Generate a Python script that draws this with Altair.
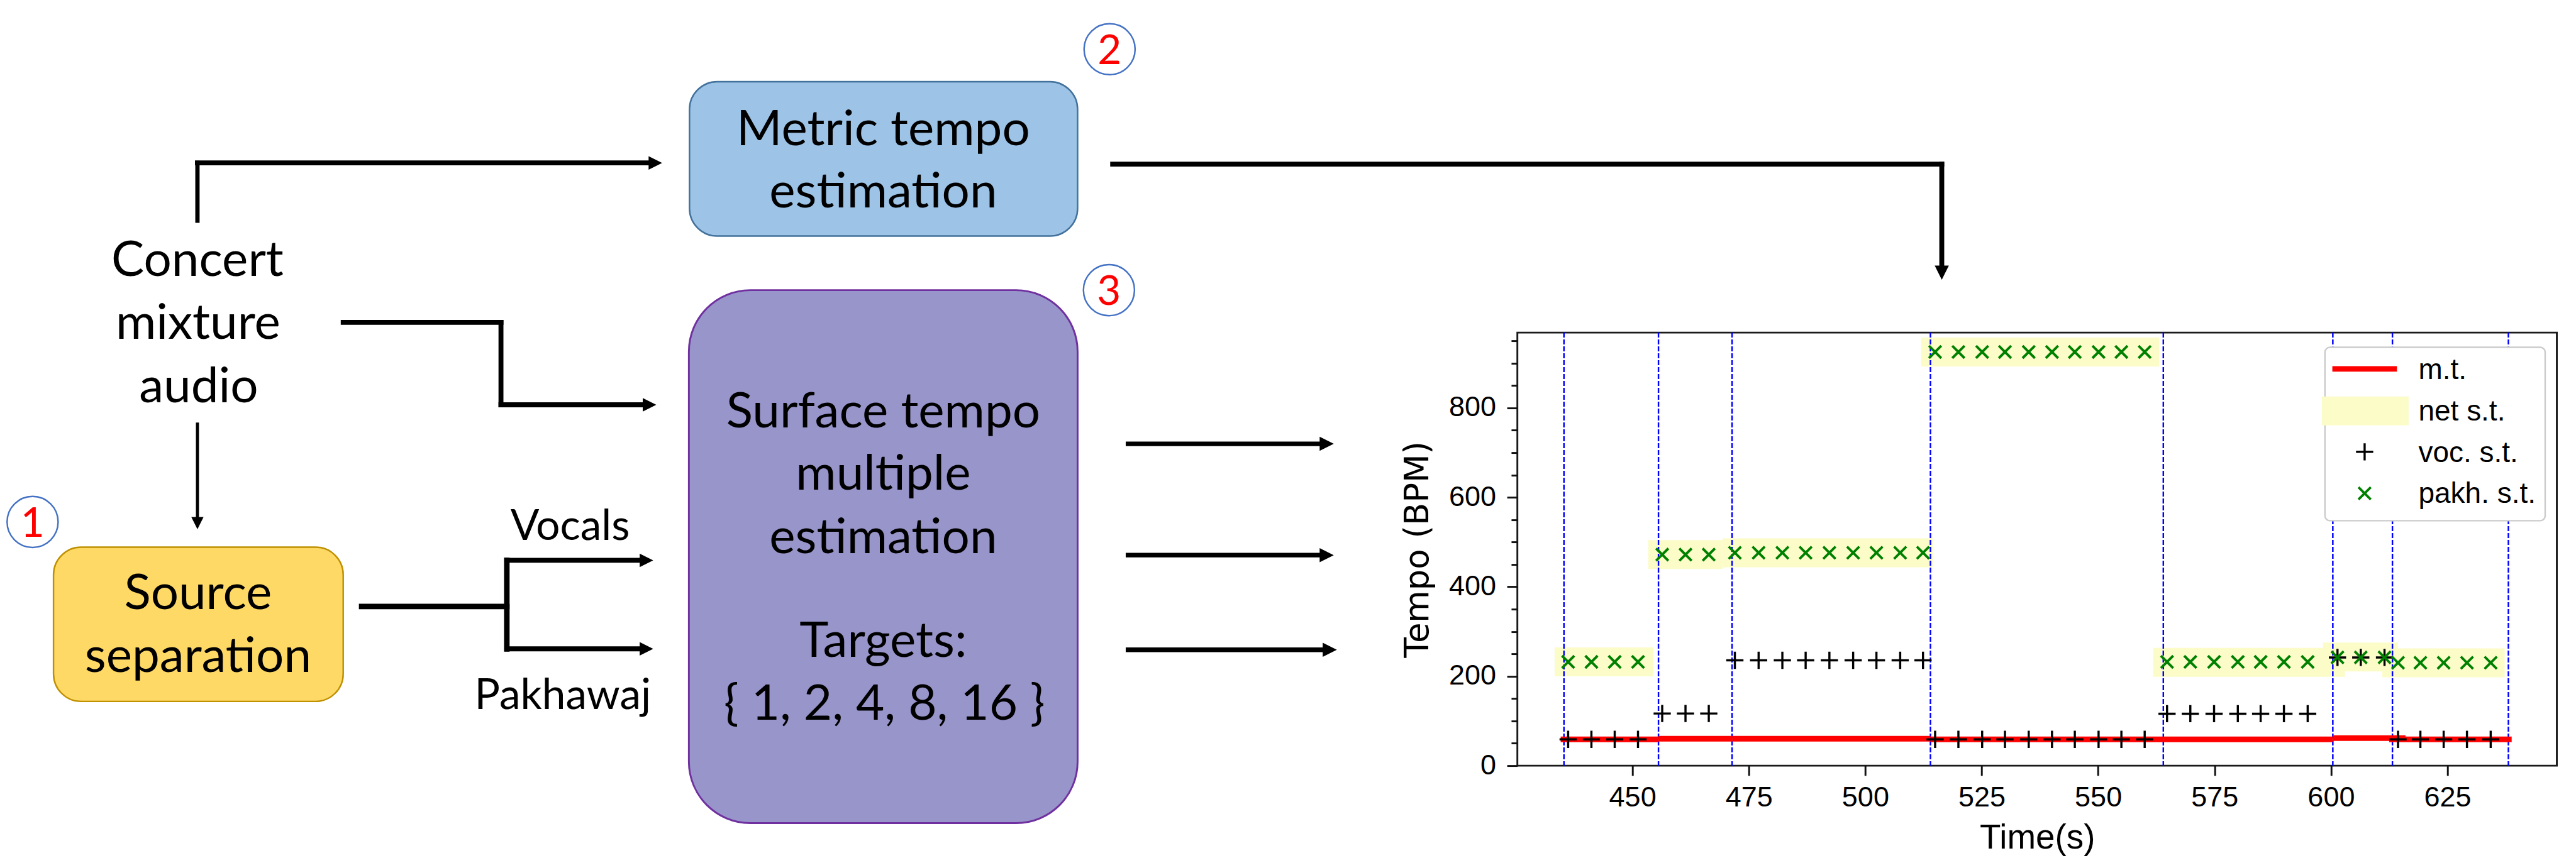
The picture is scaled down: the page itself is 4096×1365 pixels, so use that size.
import altair as alt
import pandas as pd

S = 0.978
# plot area in reference pixels
X0, Y0, X1, Y1 = 2467.0, 541.0, 4157.0, 1245.5


def PX(x):
    return S * (x - X0)


def PY(y):
    return S * (y - Y0)


# ------------------------------------------------------------------ data
boundaries = [435.3, 455.6, 471.4, 514.0, 564.0, 600.4, 613.2, 638.1]

mt_start = [434.6, 455.6, 471.4, 514.0, 564.0, 600.4, 612.5]
mt_end = [455.6, 471.4, 514.0, 564.0, 600.4, 616.0, 638.8]
mt_bpm = [58.8, 60.2, 60.2, 58.8, 58.8, 61.6, 58.8]

band_start = [433.3, 453.4, 469.4, 512.0, 561.8, 598.3, 611.0]
band_end = [454.5, 469.4, 514.5, 563.1, 603.0, 614.4, 637.3]
band_bpm = [232, 472, 476, 925, 231, 243, 230]

seg_times = [
    [436.2, 441.2, 446.2, 451.2],
    [456.4, 461.4, 466.4],
    [472.0, 477.1, 482.2, 487.2, 492.3, 497.4, 502.4, 507.5, 512.4],
    [515.0, 520.0, 525.1, 530.0, 535.1, 540.1, 545.0, 550.1, 555.0, 560.0],
    [564.8, 569.8, 574.9, 580.0, 584.9, 589.9, 595.0],
    [601.4, 606.4, 611.5],
    [614.4, 619.2, 624.2, 629.2, 634.3],
]
pakh_bpm = [232, 472, 476, 925, 232, 242, 230]
voc_bpm = [58.8, 116.6, 235.6, 58.8, 116.2, 242, 58.8]

x_ticks = [450, 475, 500, 525, 550, 575, 600, 625]
y_ticks = list(range(0, 951, 50))

legend_labels = ["m.t.", "net s.t.", "voc. s.t.", "pakh. s.t."]

df_bound = pd.DataFrame({"t": boundaries})
df_mt = pd.DataFrame({"start": mt_start, "end": mt_end, "bpm": mt_bpm})
df_band = pd.DataFrame({"start": band_start, "end": band_end, "bpm": band_bpm})
df_pakh = pd.DataFrame(
    [(t, b) for ts, b in zip(seg_times, pakh_bpm) for t in ts], columns=["t", "bpm"]
)
df_voc = pd.DataFrame(
    [(t, b) for ts, b in zip(seg_times, voc_bpm) for t in ts], columns=["t", "bpm"]
)

# ------------------------------------------------------------------ styles
PF = "Liberation Sans"
DF = "Lato"
BAND = "#FCFCC9"
PLUS = "M-1,0L1,0M0,-1L0,1"
XSH = "M-1,-1L1,1M-1,1L1,-1"
TRI_R = "M-1,-1L1,0L-1,1Z"
TRI_D = "M-1,-1L1,-1L0,1Z"

x_scale = alt.Scale(domain=[425.3, 648.5], nice=False, zero=False)
y_scale = alt.Scale(domain=[0, 968.4], nice=False, zero=False)

x_axis = alt.Axis(
    values=x_ticks, domain=False, grid=False,
    tickSize=S * 16, tickWidth=S * 3, tickColor="#111111",
    labelFont=PF, labelFontSize=S * 46, labelColor="black", labelPadding=S * 13,
    labelFlush=False, labelOverlap=False,
    title="Time(s)", titleFont=PF, titleFontSize=S * 56, titleFontWeight="normal",
    titleColor="black", titlePadding=S * 15,
)
y_axis = alt.Axis(
    values=y_ticks, domain=False, grid=False,
    tickSize={"condition": {"test": "datum.value % 200 === 0", "value": S * 17}, "value": S * 10},
    tickWidth=S * 3, tickColor="#111111",
    labelExpr="datum.value % 200 === 0 ? datum.label : ''",
    labelFont=PF, labelFontSize=S * 46, labelColor="black", labelPadding=S * 18,
    labelFlush=False, labelOverlap=False,
    title="Tempo (BPM)", titleFont="DejaVu Sans", titleFontSize=S * 54,
    titleFontWeight="normal", titleColor="black", titlePadding=S * 22,
)


def XE(f):
    return alt.X(f, type="quantitative", scale=x_scale, axis=x_axis, title="Time(s)")


def YE(f):
    return alt.Y(f, type="quantitative", scale=y_scale, axis=y_axis, title="Tempo (BPM)")


layers = []

# ------------------------------------------------------------------ plot
layers.append(
    alt.Chart(df_band).mark_rule(color=BAND, strokeWidth=S * 47, strokeCap="butt")
    .encode(x=XE("start"), x2="end", y=YE("bpm"))
)
layers.append(
    alt.Chart(df_bound).mark_rule(color="#0000FF", strokeWidth=S * 2.5, strokeDash=[8, 3])
    .encode(x=XE("t"))
)
layers.append(
    alt.Chart(df_mt).mark_rule(color="#FF0000", strokeWidth=S * 9, strokeCap="butt")
    .encode(x=XE("start"), x2="end", y=YE("bpm"))
)
layers.append(
    alt.Chart(df_voc).mark_point(shape=PLUS, size=(S * 28) ** 2, filled=False, color="black",
                                 strokeWidth=S * 3.5, opacity=1)
    .encode(x=XE("t"), y=YE("bpm"))
)
layers.append(
    alt.Chart(df_pakh).mark_point(shape=XSH, size=(S * 20) ** 2, filled=False, color="#008000",
                                  strokeWidth=S * 4, opacity=1)
    .encode(x=XE("t"), y=YE("bpm"))
)


# ------------------------------------------------------------------ helpers (layout)
def rect(x1, x2, y1, y2, fill, stroke=None, sw=0, r=0):
    kw = dict(fill=fill, cornerRadius=S * r)
    if stroke:
        kw.update(stroke=stroke, strokeWidth=S * sw)
    return alt.Chart().mark_rect(**kw).encode(
        x=alt.value(PX(x1)), x2=alt.value(PX(x2)), y=alt.value(PY(y1)), y2=alt.value(PY(y2))
    )


def hline(x1, x2, y, w, color="black", cap="square"):
    return alt.Chart().mark_rule(color=color, strokeWidth=S * w, strokeCap=cap).encode(
        x=alt.value(PX(x1)), x2=alt.value(PX(x2)), y=alt.value(PY(y))
    )


def vline(x, y1, y2, w, color="black", cap="square"):
    return alt.Chart().mark_rule(color=color, strokeWidth=S * w, strokeCap=cap).encode(
        x=alt.value(PX(x)), y=alt.value(PY(y1)), y2=alt.value(PY(y2))
    )


def head(x, y, shape, d):
    return alt.Chart().mark_point(shape=shape, filled=True, color="black", opacity=1,
                                  size=(S * d) ** 2, strokeWidth=0).encode(
        x=alt.value(PX(x)), y=alt.value(PY(y))
    )


def text(x, y, s, size, font=DF, color="black", align="center"):
    return alt.Chart().mark_text(text=s, font=font, fontSize=S * size, color=color,
                                 align=align, baseline="alphabetic").encode(
        x=alt.value(PX(x)), y=alt.value(PY(y))
    )


def badge(x, y, s):
    c = alt.Chart().mark_point(shape="circle", fill="white", stroke="#4472C4", strokeWidth=S * 2.5,
                               size=(S * 83) ** 2, opacity=1).encode(
        x=alt.value(PX(x)), y=alt.value(PY(y))
    )
    return [c, text(x, y + 24, s, 67, color="#FF0000")]


# ------------------------------------------------------------------ legend
layers.append(rect(3780, 4138, 565, 847, "white", "#CCCCCC", 2.5, 8))
layers.append(hline(3792, 3897, 600, 9, color="#FF0000", cap="butt"))
layers.append(rect(3775, 3916, 645, 692, BAND))
layers.append(
    alt.Chart().mark_point(shape=PLUS, size=(S * 28) ** 2, filled=False, color="black",
                           strokeWidth=S * 3.5, opacity=1)
    .encode(x=alt.value(PX(3844.5)), y=alt.value(PY(735)))
)
layers.append(
    alt.Chart().mark_point(shape=XSH, size=(S * 20) ** 2, filled=False, color="#008000",
                           strokeWidth=S * 4, opacity=1)
    .encode(x=alt.value(PX(3844.5)), y=alt.value(PY(802.5)))
)
for lab, yb in zip(legend_labels, [616.5, 684, 751.5, 818.5]):
    layers.append(text(3932, yb, lab, 47, font=PF, align="left"))

# ------------------------------------------------------------------ diagram boxes
layers.append(rect(1121, 1752, 133, 384, "#9DC3E6", "#41719C", 2.5, 45))
layers.append(rect(1120, 1752, 472, 1339, "#9795C9", "#7030A0", 3, 100))
layers.append(rect(87, 558, 890, 1141, "#FFD966", "#BF9000", 2.5, 45))

# ------------------------------------------------------------------ arrows
layers += [
    vline(321, 359, 265, 7),
    hline(321, 1056, 265, 8),
    head(1065.5, 265, TRI_R, 22),
    hline(558, 814.5, 524.5, 8),
    vline(814.5, 524.5, 658.5, 8),
    hline(814.5, 1046, 658.5, 8),
    head(1056, 658.5, TRI_R, 22),
    vline(321, 690, 842, 5),
    head(321, 851, TRI_D, 20),
    hline(588, 824, 986.5, 9),
    vline(824, 911.5, 1055.5, 9),
    hline(824, 1041, 911.5, 8),
    head(1051, 911.5, TRI_R, 22),
    hline(824, 1041, 1055.5, 8),
    head(1051, 1055.5, TRI_R, 22),
    hline(1809, 3157, 267, 8),
    vline(3157, 267, 433, 8),
    head(3157, 443.5, TRI_D, 23),
    hline(1834, 2147, 722, 7.5),
    head(2157, 722, TRI_R, 23),
    hline(1834, 2147, 903, 7.5),
    head(2157, 903, TRI_R, 23),
    hline(1834, 2152, 1057, 7.5),
    head(2162, 1057, TRI_R, 23),
]

# ------------------------------------------------------------------ diagram texts
layers += [
    text(321, 449, "Concert", 80),
    text(322, 551, "mixture", 80),
    text(323, 654, "audio", 80),
    text(1436, 236, "Metric tempo", 80),
    text(1436, 337, "estimation", 80),
    text(1436, 695, "Surface tempo", 80),
    text(1436, 797, "multiple", 80),
    text(1436, 900, "estimation", 80),
    text(1436, 1068, "Targets:", 80),
    text(1438, 1171, "{ 1, 2, 4, 8, 16 }", 80),
    text(322, 991, "Source", 80),
    text(322, 1093, "separation", 80),
    text(927, 878, "Vocals", 69),
    text(915, 1153, "Pakhawaj", 69),
]
layers += badge(53, 849, "1")
layers += badge(1804, 80, "2")
layers += badge(1803, 472, "3")

W = S * (X1 - X0)
H = S * (Y1 - Y0)
pad_left = S * X0 - 8
pad_top = S * Y0 - 8

chart = (
    alt.layer(*layers, data=pd.DataFrame({"k": [0]}))
    .properties(
        width=W,
        height=H,
        padding={"left": pad_left, "top": pad_top, "right": 20, "bottom": 146},
        autosize=alt.AutoSizeParams(type="none"),
        background="white",
    )
    .configure_view(stroke="#1A1A1A", strokeWidth=S * 3)
)

chart.save("out.html", embed_options={"renderer": "svg", "actions": False})
